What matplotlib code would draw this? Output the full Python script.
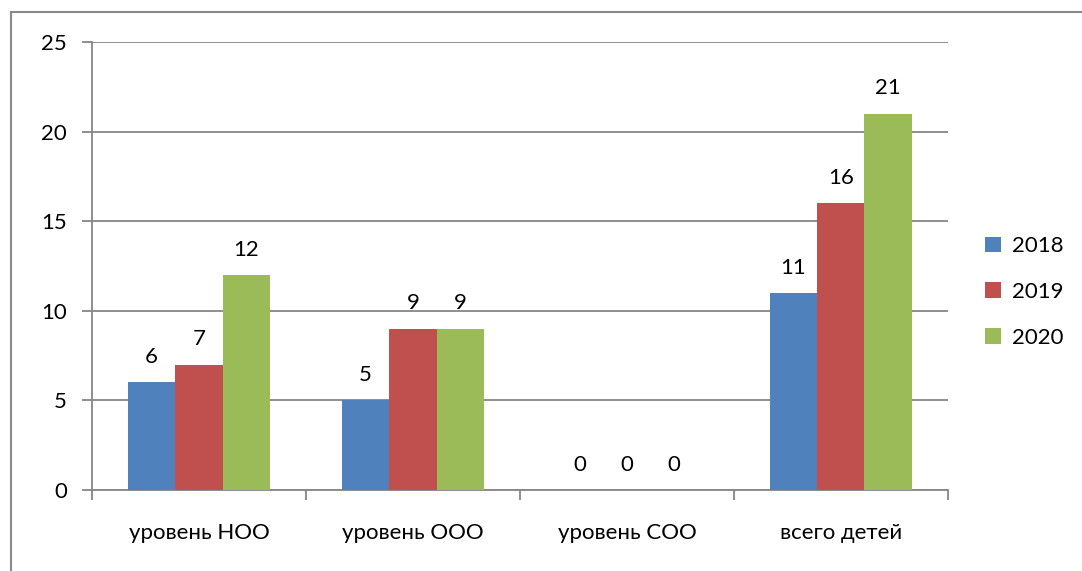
import numpy as np
import matplotlib.pyplot as plt
from matplotlib.patches import Rectangle

categories = ['уровень НОО', 'уровень ООО', 'уровень СОО', 'всего детей']
years = ['2018', '2019', '2020']
v2018 = [6, 5, 0, 11]
v2019 = [7, 9, 0, 16]
v2020 = [12, 9, 0, 21]
colors = ['#4f81bd', '#c0504d', '#9bbb59']

plt.rcParams['font.family'] = ['Lato', 'DejaVu Sans']
plt.rcParams['font.size'] = 16

fig = plt.figure(figsize=(10.82, 5.71), dpi=100)
ax = fig.add_axes([0.085, 0.1419, 0.791, 0.7845])

# outer chart frame (only left/top visible in the crop)
fig.patches.append(Rectangle((11 / 1082, -0.1), 1.2, 1 - 12 / 571 + 0.1,
                             transform=fig.transFigure, fill=False,
                             edgecolor='#898989', linewidth=1.5))

x = np.arange(len(categories))
w = 0.221
for i, (vals, yr) in enumerate(zip([v2018, v2019, v2020], years)):
    bars = ax.bar(x + (i - 1) * w, vals, w, color=colors[i], label=yr, zorder=3)
    for b, v in zip(bars, vals):
        ax.annotate(str(v), (b.get_x() + b.get_width() / 2, v),
                    xytext=(0, 11), textcoords='offset points',
                    ha='center', va='bottom', fontsize=16)

ax.set_xlim(-0.5, len(categories) - 0.5)
ax.set_ylim(0, 25)
ax.set_yticks(range(0, 26, 5))
ax.yaxis.grid(True, color='#868686', linewidth=1.3, zorder=0)
ax.set_xticks(x)
ax.set_xticklabels(categories)
ax.set_xticks(np.arange(-0.5, len(categories), 1), minor=True)
ax.tick_params(axis='x', which='major', length=0, pad=24)
ax.tick_params(axis='x', which='minor', length=7, color='#868686', width=1.3)
ax.tick_params(axis='y', length=7, color='#868686', width=1.3, pad=11)

for s in ['top', 'right']:
    ax.spines[s].set_visible(False)
for s in ['left', 'bottom']:
    ax.spines[s].set_color('#868686')
    ax.spines[s].set_linewidth(1.3)

ax.legend(loc='center left', bbox_to_anchor=(1.02, 0.442), frameon=False,
          handlelength=0.7, handleheight=0.7, labelspacing=1.15, handletextpad=0.5,
          fontsize=16)

fig.savefig('out.png', dpi=100)
